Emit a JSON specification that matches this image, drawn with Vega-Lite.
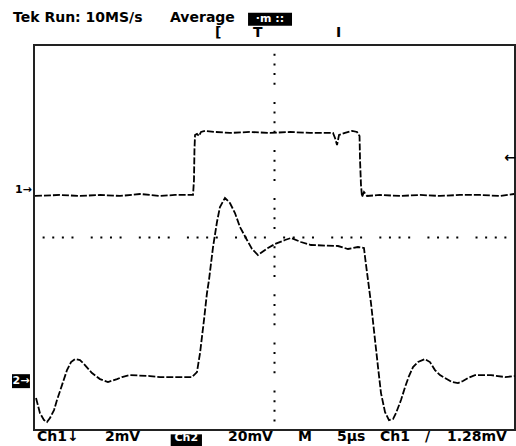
{
  "$schema": "https://vega.github.io/schema/vega-lite/v6.json",
  "width": 481,
  "height": 385,
  "autosize": {"type": "none"},
  "padding": {"left": 34, "top": 45, "right": 1, "bottom": 16},
  "background": "white",
  "config": {
    "view": {"stroke": "#222", "strokeWidth": 2},
    "text": {"font": "DejaVu Sans", "fontWeight": "bold"}
  },
  "datasets": {
    "hgrid": [{"t": 0, "t2": 50, "v": 0}],
    "vgrid": [{"t": 25, "v": -4, "v2": 4}],
    "traces": [
      {"ch": "Ch1", "t": 0.10, "v": 0.863},
      {"ch": "Ch1", "t": 2.70, "v": 0.884},
      {"ch": "Ch1", "t": 4.78, "v": 0.863},
      {"ch": "Ch1", "t": 6.86, "v": 0.884},
      {"ch": "Ch1", "t": 8.94, "v": 0.863},
      {"ch": "Ch1", "t": 11.02, "v": 0.904},
      {"ch": "Ch1", "t": 13.10, "v": 0.863},
      {"ch": "Ch1", "t": 14.66, "v": 0.884},
      {"ch": "Ch1", "t": 16.53, "v": 0.884},
      {"ch": "Ch1", "t": 16.63, "v": 1.195},
      {"ch": "Ch1", "t": 16.68, "v": 1.819},
      {"ch": "Ch1", "t": 16.74, "v": 2.131},
      {"ch": "Ch1", "t": 16.94, "v": 2.152},
      {"ch": "Ch1", "t": 17.15, "v": 2.110},
      {"ch": "Ch1", "t": 17.36, "v": 2.193},
      {"ch": "Ch1", "t": 17.78, "v": 2.214},
      {"ch": "Ch1", "t": 18.82, "v": 2.193},
      {"ch": "Ch1", "t": 20.37, "v": 2.173},
      {"ch": "Ch1", "t": 22.45, "v": 2.193},
      {"ch": "Ch1", "t": 24.53, "v": 2.173},
      {"ch": "Ch1", "t": 26.61, "v": 2.193},
      {"ch": "Ch1", "t": 28.69, "v": 2.173},
      {"ch": "Ch1", "t": 31.08, "v": 2.173},
      {"ch": "Ch1", "t": 31.29, "v": 2.069},
      {"ch": "Ch1", "t": 31.50, "v": 1.923},
      {"ch": "Ch1", "t": 31.71, "v": 2.131},
      {"ch": "Ch1", "t": 32.33, "v": 2.173},
      {"ch": "Ch1", "t": 33.06, "v": 2.214},
      {"ch": "Ch1", "t": 33.58, "v": 2.193},
      {"ch": "Ch1", "t": 33.84, "v": 2.110},
      {"ch": "Ch1", "t": 33.89, "v": 1.611},
      {"ch": "Ch1", "t": 33.99, "v": 1.091},
      {"ch": "Ch1", "t": 34.10, "v": 0.842},
      {"ch": "Ch1", "t": 34.30, "v": 0.946},
      {"ch": "Ch1", "t": 34.62, "v": 0.863},
      {"ch": "Ch1", "t": 35.97, "v": 0.884},
      {"ch": "Ch1", "t": 38.05, "v": 0.863},
      {"ch": "Ch1", "t": 40.12, "v": 0.884},
      {"ch": "Ch1", "t": 42.20, "v": 0.863},
      {"ch": "Ch1", "t": 44.28, "v": 0.884},
      {"ch": "Ch1", "t": 46.36, "v": 0.884},
      {"ch": "Ch1", "t": 48.44, "v": 0.863},
      {"ch": "Ch1", "t": 49.90, "v": 0.904},
      {"ch": "Ch2", "t": 0.21, "v": -3.337},
      {"ch": "Ch2", "t": 0.62, "v": -3.649},
      {"ch": "Ch2", "t": 1.04, "v": -3.794},
      {"ch": "Ch2", "t": 1.35, "v": -3.836},
      {"ch": "Ch2", "t": 1.66, "v": -3.753},
      {"ch": "Ch2", "t": 2.08, "v": -3.586},
      {"ch": "Ch2", "t": 2.39, "v": -3.378},
      {"ch": "Ch2", "t": 2.91, "v": -3.067},
      {"ch": "Ch2", "t": 3.43, "v": -2.755},
      {"ch": "Ch2", "t": 3.85, "v": -2.588},
      {"ch": "Ch2", "t": 4.26, "v": -2.526},
      {"ch": "Ch2", "t": 4.78, "v": -2.547},
      {"ch": "Ch2", "t": 5.20, "v": -2.630},
      {"ch": "Ch2", "t": 6.03, "v": -2.817},
      {"ch": "Ch2", "t": 6.86, "v": -2.942},
      {"ch": "Ch2", "t": 7.69, "v": -3.004},
      {"ch": "Ch2", "t": 8.63, "v": -2.942},
      {"ch": "Ch2", "t": 9.15, "v": -2.900},
      {"ch": "Ch2", "t": 9.98, "v": -2.859},
      {"ch": "Ch2", "t": 12.06, "v": -2.879},
      {"ch": "Ch2", "t": 13.10, "v": -2.900},
      {"ch": "Ch2", "t": 14.66, "v": -2.900},
      {"ch": "Ch2", "t": 16.42, "v": -2.900},
      {"ch": "Ch2", "t": 16.94, "v": -2.796},
      {"ch": "Ch2", "t": 17.26, "v": -2.401},
      {"ch": "Ch2", "t": 17.67, "v": -1.715},
      {"ch": "Ch2", "t": 17.98, "v": -1.154},
      {"ch": "Ch2", "t": 18.19, "v": -0.884},
      {"ch": "Ch2", "t": 18.61, "v": -0.198},
      {"ch": "Ch2", "t": 19.02, "v": 0.322},
      {"ch": "Ch2", "t": 19.33, "v": 0.634},
      {"ch": "Ch2", "t": 19.85, "v": 0.821},
      {"ch": "Ch2", "t": 20.37, "v": 0.717},
      {"ch": "Ch2", "t": 20.89, "v": 0.509},
      {"ch": "Ch2", "t": 21.41, "v": 0.218},
      {"ch": "Ch2", "t": 22.14, "v": -0.052},
      {"ch": "Ch2", "t": 22.66, "v": -0.239},
      {"ch": "Ch2", "t": 23.28, "v": -0.364},
      {"ch": "Ch2", "t": 24.32, "v": -0.218},
      {"ch": "Ch2", "t": 25.05, "v": -0.135},
      {"ch": "Ch2", "t": 26.09, "v": -0.052},
      {"ch": "Ch2", "t": 26.72, "v": -0.010},
      {"ch": "Ch2", "t": 27.75, "v": -0.094},
      {"ch": "Ch2", "t": 28.79, "v": -0.156},
      {"ch": "Ch2", "t": 31.60, "v": -0.177},
      {"ch": "Ch2", "t": 32.64, "v": -0.239},
      {"ch": "Ch2", "t": 33.68, "v": -0.198},
      {"ch": "Ch2", "t": 34.30, "v": -0.218},
      {"ch": "Ch2", "t": 34.41, "v": -0.405},
      {"ch": "Ch2", "t": 34.72, "v": -0.884},
      {"ch": "Ch2", "t": 35.03, "v": -1.362},
      {"ch": "Ch2", "t": 35.45, "v": -2.131},
      {"ch": "Ch2", "t": 35.76, "v": -2.692},
      {"ch": "Ch2", "t": 36.07, "v": -3.233},
      {"ch": "Ch2", "t": 36.49, "v": -3.628},
      {"ch": "Ch2", "t": 36.90, "v": -3.794},
      {"ch": "Ch2", "t": 37.32, "v": -3.773},
      {"ch": "Ch2", "t": 37.63, "v": -3.649},
      {"ch": "Ch2", "t": 38.15, "v": -3.378},
      {"ch": "Ch2", "t": 38.57, "v": -3.108},
      {"ch": "Ch2", "t": 38.98, "v": -2.879},
      {"ch": "Ch2", "t": 39.40, "v": -2.692},
      {"ch": "Ch2", "t": 39.92, "v": -2.588},
      {"ch": "Ch2", "t": 40.64, "v": -2.526},
      {"ch": "Ch2", "t": 41.16, "v": -2.588},
      {"ch": "Ch2", "t": 41.68, "v": -2.755},
      {"ch": "Ch2", "t": 42.20, "v": -2.859},
      {"ch": "Ch2", "t": 42.72, "v": -2.921},
      {"ch": "Ch2", "t": 43.45, "v": -3.004},
      {"ch": "Ch2", "t": 44.07, "v": -3.025},
      {"ch": "Ch2", "t": 44.59, "v": -2.983},
      {"ch": "Ch2", "t": 45.11, "v": -2.921},
      {"ch": "Ch2", "t": 45.84, "v": -2.859},
      {"ch": "Ch2", "t": 47.51, "v": -2.859},
      {"ch": "Ch2", "t": 48.96, "v": -2.900},
      {"ch": "Ch2", "t": 50.00, "v": -2.879}
    ],
    "boxes": [
      {"t": 22.25, "t2": 26.82, "v": 4.67, "v2": 4.40},
      {"t": 14.21, "t2": 17.46, "v": -4.09, "v2": -4.45},
      {"t": -2.29, "t2": -0.42, "v": -2.84, "v2": -3.13}
    ],
    "headtext": [
      {"t": -2.18, "v": 4.56, "label": "Tek Run: 10MS/s"},
      {"t": 14.14, "v": 4.56, "label": "Average"},
      {"t": 18.82, "v": 4.24, "label": "["},
      {"t": 22.77, "v": 4.24, "label": "T"},
      {"t": 31.39, "v": 4.24, "label": "I"}
    ],
    "foottext": [
      {"t": 0.31, "v": -4.15, "label": "Ch1↓"},
      {"t": 7.38, "v": -4.15, "label": "2mV"},
      {"t": 20.17, "v": -4.15, "label": "20mV"},
      {"t": 27.44, "v": -4.15, "label": "M"},
      {"t": 31.50, "v": -4.15, "label": "5µs"},
      {"t": 35.97, "v": -4.15, "label": "Ch1"},
      {"t": 40.64, "v": -4.15, "label": "/"},
      {"t": 42.93, "v": -4.15, "label": "1.28mV"}
    ],
    "whitetext": [
      {"t": 24.53, "v": 4.53, "label": "·m ::"},
      {"t": 15.83, "v": -4.17, "label": "Ch2"},
      {"t": -1.35, "v": -2.98, "label": "2→"}
    ],
    "markers": [
      {"t": -1.98, "v": 0.99, "label": "1→"}
    ],
    "trig": [
      {"t": 50.1, "v": 1.653, "label": "←"}
    ]
  },
  "layer": [
    {
      "data": {"name": "hgrid"},
      "mark": {"type": "rule", "stroke": "black", "strokeWidth": 2, "strokeCap": "butt", "strokeDash": [2, 7.62, 2, 7.62, 2, 7.62, 2, 17.24], "strokeDashOffset": 39.48},
      "encoding": {
        "x": {"field": "t", "type": "quantitative", "scale": {"domain": [0, 50], "nice": false, "zero": false}, "axis": null},
        "x2": {"field": "t2"},
        "y": {"field": "v", "type": "quantitative", "scale": {"domain": [-4, 4], "nice": false, "zero": false}, "axis": null}
      }
    },
    {
      "data": {"name": "vgrid"},
      "mark": {"type": "rule", "stroke": "black", "strokeWidth": 2, "strokeCap": "butt", "strokeDash": [2, 7.62, 2, 7.62, 2, 7.62, 2, 17.24], "strokeDashOffset": 39.48},
      "encoding": {
        "x": {"field": "t", "type": "quantitative"},
        "y": {"field": "v", "type": "quantitative"},
        "y2": {"field": "v2"}
      }
    },
    {
      "data": {"name": "traces"},
      "mark": {"type": "line", "stroke": "black", "strokeWidth": 1.8, "strokeDash": [7, 2], "interpolate": "linear"},
      "encoding": {
        "x": {"field": "t", "type": "quantitative"},
        "y": {"field": "v", "type": "quantitative"},
        "detail": {"field": "ch"}
      }
    },
    {
      "data": {"name": "boxes"},
      "mark": {"type": "rect", "fill": "black"},
      "encoding": {
        "x": {"field": "t", "type": "quantitative"},
        "x2": {"field": "t2"},
        "y": {"field": "v", "type": "quantitative"},
        "y2": {"field": "v2"}
      }
    },
    {
      "data": {"name": "headtext"},
      "mark": {"type": "text", "align": "left", "baseline": "middle", "fontSize": 14, "fill": "black"},
      "encoding": {
        "x": {"field": "t", "type": "quantitative"},
        "y": {"field": "v", "type": "quantitative"},
        "text": {"field": "label"}
      }
    },
    {
      "data": {"name": "foottext"},
      "mark": {"type": "text", "align": "left", "baseline": "middle", "fontSize": 14, "fill": "black"},
      "encoding": {
        "x": {"field": "t", "type": "quantitative"},
        "y": {"field": "v", "type": "quantitative"},
        "text": {"field": "label"}
      }
    },
    {
      "data": {"name": "whitetext"},
      "mark": {"type": "text", "align": "center", "baseline": "middle", "fontSize": 11, "fill": "white"},
      "encoding": {
        "x": {"field": "t", "type": "quantitative"},
        "y": {"field": "v", "type": "quantitative"},
        "text": {"field": "label"}
      }
    },
    {
      "data": {"name": "markers"},
      "mark": {"type": "text", "align": "left", "baseline": "middle", "fontSize": 11, "fill": "black"},
      "encoding": {
        "x": {"field": "t", "type": "quantitative"},
        "y": {"field": "v", "type": "quantitative"},
        "text": {"field": "label"}
      }
    },
    {
      "data": {"name": "trig"},
      "mark": {"type": "text", "align": "right", "baseline": "middle", "fontSize": 14, "fill": "black"},
      "encoding": {
        "x": {"field": "t", "type": "quantitative"},
        "y": {"field": "v", "type": "quantitative"},
        "text": {"field": "label"}
      }
    }
  ]
}
